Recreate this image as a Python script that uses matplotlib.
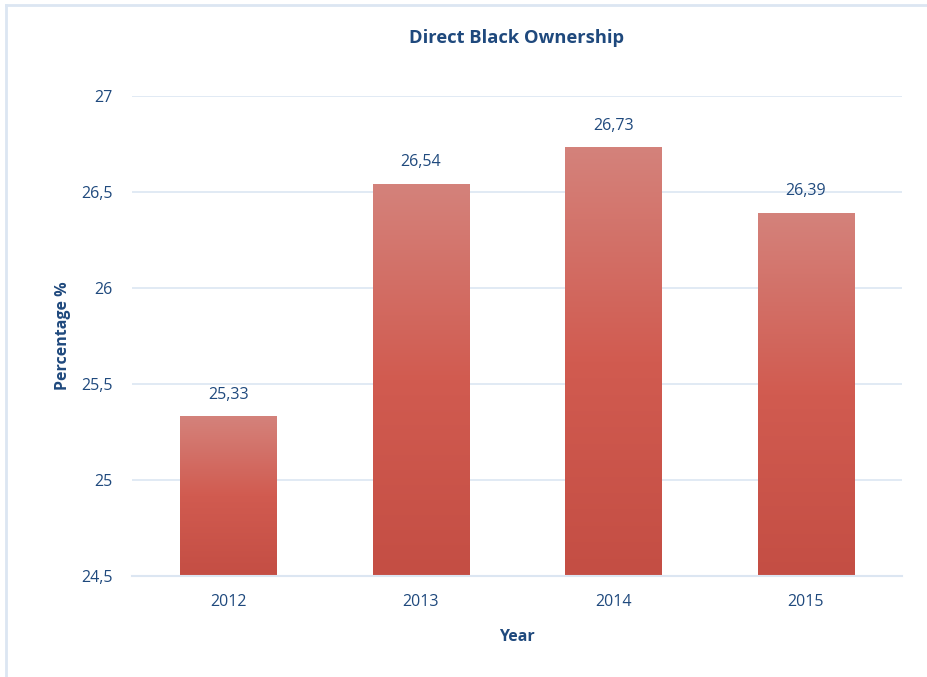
import matplotlib.pyplot as plt
import numpy as np
from matplotlib.colors import LinearSegmentedColormap
from matplotlib.lines import Line2D

plt.rcParams['font.family'] = ['Open Sans', 'DejaVu Sans']

years = ['2012', '2013', '2014', '2015']
values = [25.33, 26.54, 26.73, 26.39]
yticks = [24.5, 25, 25.5, 26, 26.5, 27]

txt = '#1F497D'
grid = '#DCE6F2'

fig = plt.figure(figsize=(9.27, 6.77), dpi=100)
ax = fig.add_axes([0.1424, 0.1492, 0.8306, 0.7090])

# light frame on the left and top
fig.add_artist(Line2D([0.0065, 0.0065], [0, 0.993], color=grid, lw=2, transform=fig.transFigure))
fig.add_artist(Line2D([0.0065, 1], [0.993, 0.993], color=grid, lw=2, transform=fig.transFigure))

cmap = LinearSegmentedColormap.from_list('bar', ['#C44E44', '#D15B50', '#D4827B'])
grad = np.linspace(0, 1, 256).reshape(-1, 1)

x = np.arange(len(years))
w = 0.5
bars = ax.bar(x, values, w, bottom=0, color='none', zorder=2)
for b, v in zip(bars, values):
    x0 = b.get_x()
    ax.imshow(grad, cmap=cmap, origin='lower', aspect='auto',
              extent=[x0, x0 + w, 24.5, v], zorder=2)
    ax.annotate(f'{v:.2f}'.replace('.', ','), (b.get_x() + w / 2, v),
                xytext=(0, 10), textcoords='offset points', ha='center', va='bottom',
                color=txt, fontsize=11.5)

ax.set_xlim(-0.5, 3.5)
ax.set_ylim(24.5, 27)
ax.set_yticks(yticks)
ax.set_yticklabels([f'{t:g}'.replace('.', ',') for t in yticks])
ax.set_xticks(x)
ax.set_xticklabels(years)
ax.tick_params(length=0, colors=txt, labelsize=11.5)
ax.tick_params(axis='y', pad=14)
ax.tick_params(axis='x', pad=13)
ax.grid(axis='y', color=grid, lw=1.2, zorder=0)
ax.set_axisbelow(True)
for s in ['top', 'right', 'left']:
    ax.spines[s].set_visible(False)
ax.spines['bottom'].set_color(grid)
ax.spines['bottom'].set_linewidth(1.5)

ax.set_title('Direct Black Ownership', color=txt, fontsize=13.2, fontweight='bold', pad=38)
ax.set_ylabel('Percentage %', color=txt, fontsize=11.5, fontweight='bold', labelpad=7)
ax.set_xlabel('Year', color=txt, fontsize=11.5, fontweight='bold', labelpad=14)

fig.savefig('out.png', dpi=100)
